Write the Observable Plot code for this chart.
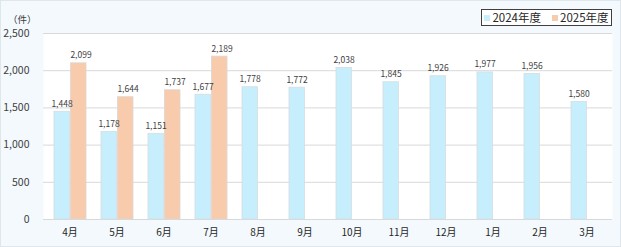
<!DOCTYPE html>
<html><head><meta charset="utf-8">
<script src="https://cdn.jsdelivr.net/npm/d3@7"></script>
<script src="https://cdn.jsdelivr.net/npm/@observablehq/plot@0.6"></script>
<style>
html,body{margin:0;padding:0;background:#fff;}
#wrap{position:relative;width:621px;height:247px;background:#f3f9fd;font-family:"Noto Sans CJK JP","Noto Sans",sans-serif;overflow:hidden;}
#wrap svg{position:absolute;left:0;top:0;background:transparent;}
#border{position:absolute;left:0;top:0;width:619px;height:245px;border:1px solid #dfe7ec;pointer-events:none;}
#unit{position:absolute;left:8px;top:14px;font-size:9.5px;line-height:10px;color:#404040;}
#legend{position:absolute;left:481px;top:9px;width:129px;height:15px;border:1.5px solid #404040;background:#fff;font-size:11.5px;color:#262626;display:flex;align-items:center;justify-content:center;gap:11px;line-height:15px;}
#legend span.sw{display:inline-block;width:6px;height:6px;margin-right:2px;vertical-align:middle;position:relative;top:-1px;}
</style>
</head><body>
<div id="wrap">
  <div id="unit">（件）</div>
  <div id="legend"></div>
  <div id="border"></div>
</div>
<script>
const months = ["4月","5月","6月","7月","8月","9月","10月","11月","12月","1月","2月","3月"];
const values2024 = [1448,1178,1151,1677,1778,1772,2038,1845,1926,1977,1956,1580];
const values2025 = [2099,1644,1737,2189];
const seriesNames = ["2024年度","2025年度"];
const seriesColors = ["#c6eefc","#f8cbad"];
const yTicks = [0,500,1000,1500,2000,2500];

const d24 = months.map((m,i)=>({month:m, value:values2024[i]}));
const d25 = values2025.map((v,i)=>({month:months[i], value:v}));
const fmt = d3.format(",");

const plot = Plot.plot({
  width: 621,
  height: 247,
  marginTop: 33,
  marginBottom: 28,
  marginLeft: 43,
  marginRight: 9,
  style: {background:"transparent", fontFamily:"'Noto Sans CJK JP','Noto Sans',sans-serif", overflow:"visible"},
  x: {domain: months, padding: 0, label: null, tickSize: 0, tickPadding: 9},
  y: {domain: [0,2500], label: null, ticks: yTicks, tickFormat: fmt, tickSize: 0, tickPadding: 14},
  marks: [
    Plot.frame({fill:"#ffffff", stroke:null}),
    Plot.ruleY(yTicks, {stroke:"#d9d9d9", strokeWidth:1}),
    Plot.barY(d24, {x:"month", y:"value", fill:seriesColors[0], stroke:"#d6dde0", strokeWidth:0.8, insetLeft:8, insetRight:23.5}),
    Plot.barY(d25, {x:"month", y:"value", fill:seriesColors[1], stroke:"#dcd6d2", strokeWidth:0.8, insetLeft:24.5, insetRight:7}),
    Plot.text(d24, {x:"month", y:"value", text:d=>fmt(d.value), dx:-8, dy:-5, lineAnchor:"bottom", fontSize:8.5, fill:"#404040"}),
    Plot.text(d25, {x:"month", y:"value", text:d=>fmt(d.value), dx:11, dy:-5, lineAnchor:"bottom", fontSize:8.5, fill:"#404040"}),
    Plot.axisX({tickSize:0, tickPadding:9, fontSize:10, fill:"#262626", label:null}),
    Plot.axisY({ticks:yTicks, tickFormat:fmt, tickSize:0, tickPadding:14, fontSize:10.5, fill:"#404040", label:null})
  ]
});
const wrap = document.getElementById("wrap");
wrap.insertBefore(plot, wrap.firstChild);

const legend = document.getElementById("legend");
seriesNames.forEach((n,i)=>{
  const item = document.createElement("div");
  item.innerHTML = `<span class="sw" style="background:${seriesColors[i]}"></span>${n}`;
  legend.appendChild(item);
});
</script>
</body></html>
